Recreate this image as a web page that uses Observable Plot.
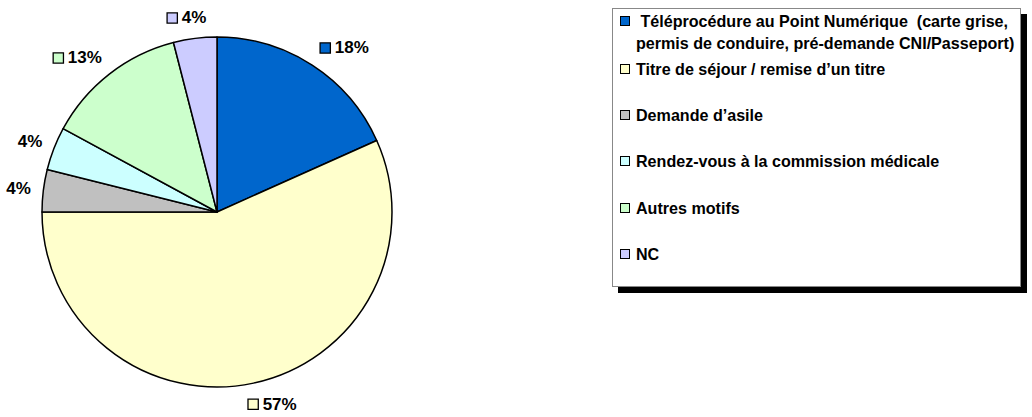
<!DOCTYPE html>
<html><head><meta charset="utf-8">
<script src="https://cdn.jsdelivr.net/npm/d3@7"></script>
<script src="https://cdn.jsdelivr.net/npm/@observablehq/plot@0.6"></script>
<style>
body{margin:0;background:#fff;font-family:"Liberation Sans",Arial,sans-serif;}
#wrap{position:relative;width:1032px;height:417px;overflow:hidden;}
#wrap svg{position:absolute;left:0;top:0;}
#legend{position:absolute;left:612px;top:8px;width:407px;height:277px;border:1px solid #888;box-shadow:6px 6px 0 #000;background:#fff;}
.item{position:absolute;left:7px;font-weight:bold;font-size:16.1px;line-height:22px;color:#000;white-space:nowrap;}
.sw{position:absolute;left:0;top:6px;width:8px;height:8px;border:1px solid #000;}
.txt{position:absolute;left:16px;top:0;}
</style></head><body><div id="wrap"></div>
<script>
const categories = [
  "Téléprocédure au Point Numérique",
  "Titre de séjour / remise d’un titre",
  "Demande d’asile",
  "Rendez-vous à la commission médicale",
  "Autres motifs",
  "NC"
];
const legendLabels = [
  "\u00a0Téléprocédure au Point Numérique \u00a0(carte grise,\npermis de conduire, pré-demande CNI/Passeport)",
  "Titre de séjour / remise d’un titre",
  "Demande d’asile",
  "Rendez-vous à la commission médicale",
  "Autres motifs",
  "NC"
];
const values = [18.3, 56.7, 3.9, 4.0, 13.1, 4.0];
const colors = ["#0066CC", "#FFFFCC", "#C0C0C0", "#CCFFFF", "#CCFFCC", "#CCCCFF"];

const data = categories.map((c, i) => ({category: c, value: values[i], color: colors[i]}));
const arcs = d3.pie().sort(null).value(d => d.value)(data);

const R = 175;      // pixel radius of the pie (1 data unit)
const anchorR = 188; // label anchor distance (px) along the slice's mid-angle
const H = 16;
const labels = arcs.map(a => {
  const m = (a.startAngle + a.endAngle) / 2;
  const s = Math.sin(m), c = Math.cos(m);
  const txt = Math.round(a.data.value) + "%";
  const w = 9.45 * (txt.length - 1) + 15.1;
  const W = 11 + 4 + w;
  // label box sits just outside the anchor point (pixel offsets, y down)
  const cxp = anchorR * s + Math.sign(s) * Math.min(1, Math.abs(s) * 3) * W / 2;
  const cyp = -anchorR * c - c * H / 2;
  const leftp = cxp - W / 2;
  return {txt, color: a.data.color, sqx: (leftp + 5.5) / R, tx: (leftp + 15) / R, y: -cyp / R, px: 217 + leftp};
});

const pieMark = (index, scales, values, dims, context) => {
  const cx = scales.x(0), cy = scales.y(0);
  const r = scales.x(1) - scales.x(0);
  const arc = d3.arc().innerRadius(0).outerRadius(r);
  const g = d3.create("svg:g").attr("transform", `translate(${cx},${cy})`);
  g.selectAll("path").data(arcs).join("path")
    .attr("d", arc)
    .attr("fill", d => d.data.color)
    .attr("stroke", "#000")
    .attr("stroke-width", 1.5)
    .attr("stroke-linejoin", "round");
  return g.node();
};

const chart = Plot.plot({
  width: 1032,
  height: 417,
  marginLeft: 42,
  marginRight: 1032 - 392,
  marginTop: 37,
  marginBottom: 417 - 387,
  x: {domain: [-1, 1], axis: null},
  y: {domain: [-1, 1], axis: null},
  style: {background: "transparent", overflow: "visible"},
  marks: [
    pieMark,
    Plot.dot(labels.filter(d => d.px > 10), {x: "sqx", y: "y", symbol: "square", r: 5.8, fill: "color", stroke: "#000", strokeWidth: 1.3}),
    Plot.text(labels, {x: "tx", y: "y", text: "txt", textAnchor: "start", fontSize: 17, fontWeight: "bold", fill: "#000", fontFamily: "Liberation Sans, Arial, sans-serif"})
  ]
});

const wrap = document.getElementById("wrap");
wrap.appendChild(chart);

const legend = document.createElement("div");
legend.id = "legend";
const tops = [1, 49, 95, 141, 188, 234];
legendLabels.forEach((lab, i) => {
  const it = document.createElement("div");
  it.className = "item";
  it.style.top = tops[i] + "px";
  const sw = document.createElement("div");
  sw.className = "sw";
  sw.style.background = colors[i];
  const t = document.createElement("div");
  t.className = "txt";
  t.style.whiteSpace = "pre";
  t.textContent = lab;
  it.appendChild(sw);
  it.appendChild(t);
  legend.appendChild(it);
});
wrap.appendChild(legend);
</script>
</body></html>
